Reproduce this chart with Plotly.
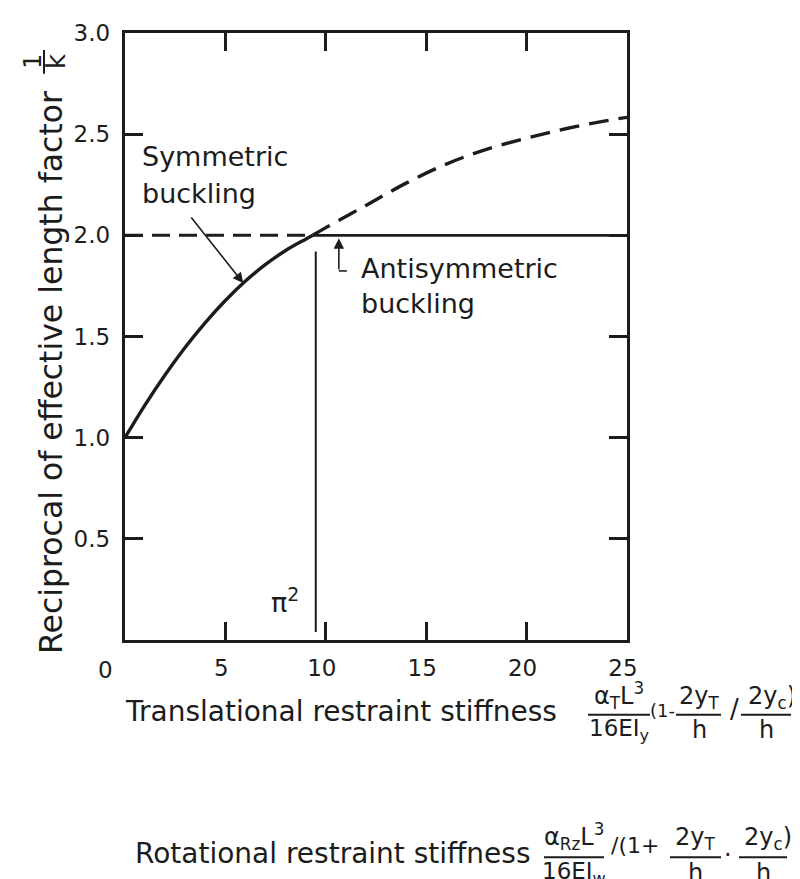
import plotly.graph_objects as go

# ---------------- data ----------------
sym_x = [0, 1, 2, 3, 4, 5, 6, 7, 8, 9, 9.35]
sym_y = [1.000, 1.162, 1.311, 1.447, 1.569, 1.678, 1.774, 1.856, 1.925, 1.981, 2.000]

sym_ext_x = [9.35, 10, 12, 14, 16, 18, 20, 22, 24, 25]
sym_ext_y = [2.000, 2.038, 2.148, 2.258, 2.352, 2.425, 2.480, 2.528, 2.567, 2.583]

anti_dash_x = [0, 9.35]
anti_solid_x = [9.35, 25]
anti_level = 2.0

pi2_x = 9.5
pi2_y = [0.04, 1.92]

x_tickvals = [5, 10, 15, 20, 25]
x_ticktext = ["5", "10", "15", "20", "25"]
y_tickvals = [0.5, 1.0, 1.5, 2.0, 2.5, 3.0]
y_ticktext = ["0.5", "1.0", "1.5", "2.0", "2.5", "3.0"]

# ---------------- styling ----------------
FONT = "DejaVu Sans"
INK = "#1c1c1c"
W, H = 800, 879
L, R, T, B = 117, 619, 23, 632


def P(xp, yp):
    return (xp - L) / (R - L), (B - yp) / (B - T)


def txt(xp, yp, s, size, xanchor="center", yanchor="middle", angle=0):
    x, y = P(xp, yp)
    return dict(x=x, y=y, xref="paper", yref="paper", text=s, showarrow=False,
                font=dict(family=FONT, size=size, color=INK),
                xanchor=xanchor, yanchor=yanchor, textangle=angle)


def hbar(x0, x1, yp, w=2):
    a, b = P(x0, yp)
    c, _ = P(x1, yp)
    return dict(type="line", xref="paper", yref="paper", x0=a, y0=b, x1=c, y1=b,
                line=dict(color=INK, width=w))


def vbar(xp, y0, y1, w=2):
    a, b = P(xp, y0)
    _, d = P(xp, y1)
    return dict(type="line", xref="paper", yref="paper", x0=a, y0=b, x1=a, y1=d,
                line=dict(color=INK, width=w))


fig = go.Figure()

# symmetric buckling curve (solid) and its dashed continuation
fig.add_trace(go.Scatter(x=sym_x, y=sym_y, mode="lines", line_shape="spline",
                         line=dict(color=INK, width=3.4), showlegend=False, hoverinfo="skip"))
fig.add_trace(go.Scatter(x=sym_ext_x, y=sym_ext_y, mode="lines", line_shape="spline",
                         line=dict(color=INK, width=3.4, dash="20px,10px"),
                         showlegend=False, hoverinfo="skip"))
# antisymmetric buckling level
fig.add_trace(go.Scatter(x=anti_dash_x, y=[anti_level] * 2, mode="lines",
                         line=dict(color=INK, width=3, dash="18px,9px"),
                         showlegend=False, hoverinfo="skip"))
fig.add_trace(go.Scatter(x=anti_solid_x, y=[anti_level] * 2, mode="lines",
                         line=dict(color=INK, width=2.6), showlegend=False, hoverinfo="skip"))
# pi^2 marker line
fig.add_trace(go.Scatter(x=[pi2_x, pi2_x], y=pi2_y, mode="lines",
                         line=dict(color=INK, width=2), showlegend=False, hoverinfo="skip"))

axis_common = dict(showline=True, linewidth=3.4, linecolor=INK, mirror="ticks",
                   ticks="inside", ticklen=18, tickwidth=2.5, tickcolor=INK,
                   showgrid=False, zeroline=False,
                   tickfont=dict(family=FONT, size=23, color=INK))

fig.update_xaxes(range=[0, 25], tickvals=x_tickvals, ticktext=x_ticktext,
                 ticklabelstandoff=5, ticklabelshift=-4, **axis_common)
fig.update_yaxes(range=[0, 3], tickvals=y_tickvals, ticktext=y_ticktext,
                 ticklabelstandoff=7, **axis_common)

ann = []
# x "0" label
ann.append(txt(97, 662, "0", 23))
# y-axis title with fraction 1/k
ann.append(txt(43, 364, "Reciprocal of effective length factor", 31.5, angle=-90))
ann.append(txt(25, 52, "1", 24, angle=-90))
ann.append(txt(48, 52, "k", 26, angle=-90))

# curve labels
ann.append(txt(132, 147, "Symmetric", 27, "left"))
ann.append(txt(132, 184, "buckling", 27, "left"))
ann.append(txt(351, 259, "Antisymmetric", 27, "left"))
ann.append(txt(351, 294, "buckling", 27, "left"))
ann.append(txt(261, 592, "π<sup>2</sup>", 27, "left"))

# arrows
ann.append(dict(x=5.89, y=1.764, ax=3.24, ay=2.096, xref="x", yref="y", axref="x", ayref="y",
                showarrow=True, arrowhead=2, arrowsize=1.3, arrowwidth=1.6,
                arrowcolor=INK, text="", standoff=0))
ann.append(dict(x=10.65, y=1.985, ax=10.65, ay=1.824, xref="x", yref="y", axref="x", ayref="y",
                showarrow=True, arrowhead=2, arrowsize=1.3, arrowwidth=1.6,
                arrowcolor=INK, text="", standoff=0))

# ---- x-axis description line 1 ----
b1 = 707
ann.append(txt(115, b1 - 3, "Translational restraint stiffness", 28, "left"))
ann.append(txt(611, b1 - 19, "α<sub>T</sub>L<sup>3</sup>", 24))
ann.append(txt(611, b1 + 15, "16EI<sub>y</sub>", 23))
ann.append(txt(654, b1 - 4, "(1-", 18))
ann.append(txt(691, b1 - 17, "2y<sub>T</sub>", 24))
ann.append(txt(691, b1 + 15, "h", 24))
ann.append(txt(726, b1 - 6, "/", 26))
ann.append(txt(764, b1 - 17, "2y<sub>c</sub>)", 24))
ann.append(txt(758, b1 + 15, "h", 24))

# ---- x-axis description line 2 ----
b2 = 850
ann.append(txt(125, b2 - 4, "Rotational restraint stiffness", 28, "left"))
ann.append(txt(566, b2 - 21, "α<sub>Rz</sub>L<sup>3</sup>", 24))
ann.append(txt(566, b2 + 16, "16EI<sub>w</sub>", 23))
ann.append(txt(627, b2 - 12, "/(1+", 22))
ann.append(txt(687, b2 - 19, "2y<sub>T</sub>", 24))
ann.append(txt(687, b2 + 16, "h", 24))
ann.append(txt(720, b2 - 2, "·", 24))
ann.append(txt(760, b2 - 19, "2y<sub>c</sub>)", 24))
ann.append(txt(755, b2 + 16, "h", 24))

shapes = [
    vbar(36, 40, 64),
    hbar(580, 642, b1), hbar(668, 713, b1), hbar(733, 783, b1),
    hbar(536, 596, b2), hbar(662, 713, b2), hbar(731, 779, b2),
    # foot of the antisymmetric pointer
    dict(type="line", xref="x", yref="y", x0=10.65, y0=1.824, x1=11.05, y1=1.824,
         line=dict(color=INK, width=1.6)),
]

fig.update_layout(width=W, height=H, margin=dict(l=L, r=W - R, t=T, b=H - B),
                  paper_bgcolor="white", plot_bgcolor="white",
                  annotations=ann, shapes=shapes,
                  font=dict(family=FONT, color=INK))

fig.write_html("out.html")
